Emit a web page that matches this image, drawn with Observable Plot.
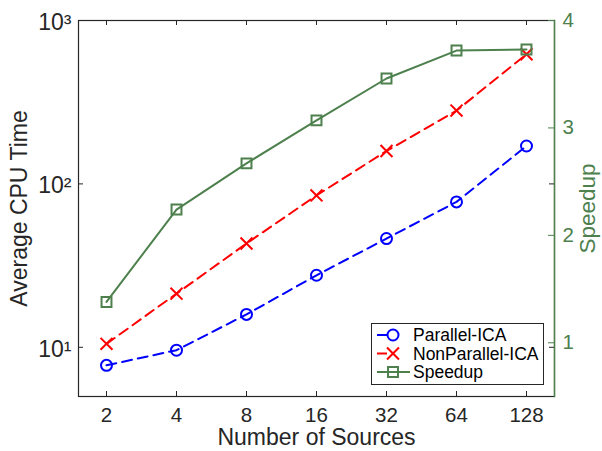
<!DOCTYPE html>
<html>
<head>
<meta charset="utf-8">
<script src="https://cdn.jsdelivr.net/npm/d3@7"></script>
<script src="https://cdn.jsdelivr.net/npm/@observablehq/plot@0.6"></script>
<style>
  html, body { margin: 0; padding: 0; background: #fff; }
  #wrap { position: relative; width: 602px; height: 451px; font-family: "Liberation Sans", Arial, Helvetica, sans-serif; }
  #wrap svg { position: absolute; left: 0; top: 0; }
</style>
</head>
<body>
<div id="wrap"></div>
<script>
const sources = [2, 4, 8, 16, 32, 64, 128];
const parallelICA = [7.76, 9.6, 15.9, 27.6, 46.3, 77.6, 170.6];
const nonParallelICA = [10.5, 21.3, 43.2, 85, 159, 281, 622];
const speedup = [1.38, 2.24, 2.67, 3.07, 3.46, 3.72, 3.73];
const cpuTicks = [10, 100, 1000];
const speedTicks = [1, 2, 3, 4];
const seriesNames = ["Parallel-ICA", "NonParallel-ICA", "Speedup"];

const blue = "#0000ff", red = "#ff0000", green = "#4d804d", ink = "#262626";
const W = 602, H = 451, mL = 78, mR = 48, mT = 20, mB = 55;
const pw = W - mL - mR, ph = H - mT - mB;

// right axis (speedup, linear [0.5, 4]) mapped onto the left log scale [5, 1000]
const cpuDomain = [5, 1000], spDomain = [0.5, 4];
const k = Math.log10(cpuDomain[1] / cpuDomain[0]) / (spDomain[1] - spDomain[0]);
const sy = s => cpuDomain[0] * Math.pow(10, (s - spDomain[0]) * k);

const data = sources.map((n, i) => ({n, par: parallelICA[i], non: nonParallelICA[i], sp: speedup[i]}));
const sup = {"1": "\u00b9", "2": "\u00b2", "3": "\u00b3"};
const FF = '"Liberation Sans", Arial, Helvetica, sans-serif';

const plot = Plot.plot({
  width: W, height: H,
  marginLeft: mL, marginRight: mR, marginTop: mT, marginBottom: mB,
  style: {fontFamily: FF, background: "transparent", overflow: "visible"},
  x: {type: "log", base: 2, domain: [Math.pow(2, 0.6), Math.pow(2, 7.4)]},
  y: {type: "log", domain: cpuDomain},
  marks: [
    Plot.frame({stroke: ink, strokeWidth: 1.2}),
    Plot.frame({anchor: "right", stroke: green, strokeWidth: 1.4}),
    // inward ticks
    Plot.tickX(sources, {x: d => d, insetTop: ph - 5, stroke: ink}),
    Plot.tickX(sources, {x: d => d, insetBottom: ph - 5, stroke: ink}),
    Plot.tickY(cpuTicks, {y: d => d, insetRight: pw - 5, stroke: ink}),
    Plot.tickY(cpuTicks, {y: d => d, insetLeft: pw - 5, stroke: ink}),
    Plot.tickY(speedTicks, {y: d => sy(d), insetLeft: pw - 6, stroke: green}),
    // axis tick labels
    Plot.axisX(sources, {tickSize: 0, tickPadding: 11, fontSize: 20.5, fill: ink, tickFormat: d => String(d), label: null}),
    Plot.axisY(cpuTicks, {anchor: "left", tickSize: 0, tickPadding: 7, fontSize: 23, fill: ink, dy: 2,
      tickFormat: d => "10" + sup[String(Math.round(Math.log10(d)))], label: null}),
    Plot.text(speedTicks, {y: d => sy(d), frameAnchor: "right", dx: 8, textAnchor: "start", lineAnchor: "middle",
      text: d => String(d), fontSize: 20.5, fill: green}),
    // axis titles
    Plot.text(["Average CPU Time"], {frameAnchor: "left", textAnchor: "middle", lineAnchor: "middle", rotate: -90, dx: -59, fontSize: 23, fill: ink}),
    Plot.text(["Speedup"], {frameAnchor: "right", textAnchor: "middle", lineAnchor: "middle", rotate: -90, dx: 33, fontSize: 22.5, fill: green}),
    Plot.text(["Number of Sources"], {frameAnchor: "bottom", textAnchor: "middle", lineAnchor: "middle", dy: 41, fontSize: 23, fill: ink}),
    // series
    Plot.line(data, {x: "n", y: "par", stroke: blue, strokeWidth: 2, strokeDasharray: "10,6"}),
    Plot.dot(data, {x: "n", y: "par", symbol: "circle", r: 5.5, stroke: blue, strokeWidth: 2, fill: "none"}),
    Plot.line(data, {x: "n", y: "non", stroke: red, strokeWidth: 2, strokeDasharray: "10,6"}),
    Plot.dot(data, {x: "n", y: "non", symbol: "times", r: 5.5, stroke: red, strokeWidth: 2}),
    Plot.line(data, {x: "n", y: d => sy(d.sp), stroke: green, strokeWidth: 2}),
    Plot.dot(data, {x: "n", y: d => sy(d.sp), symbol: "square", r: 5.6, stroke: green, strokeWidth: 2, fill: "none"})
  ]
});
const wrap = document.getElementById("wrap");
wrap.appendChild(plot);

// legend overlay
const leg = d3.select(wrap).append("svg").attr("width", W).attr("height", H)
  .style("pointer-events", "none");
const items = [
  {label: seriesNames[0], color: blue, dash: "10,30", sym: "circle"},
  {label: seriesNames[1], color: red, dash: "10,30", sym: "times"},
  {label: seriesNames[2], color: green, dash: null, sym: "square"}
];
leg.append("rect").attr("x", 371.5).attr("y", 323.5).attr("width", 172).attr("height", 61)
  .attr("fill", "#fff").attr("stroke", ink).attr("stroke-width", 1);
const rowY = [335, 353.5, 372];
items.forEach((it, i) => {
  const g = leg.append("g").attr("transform", `translate(0,${rowY[i]})`);
  g.append("line").attr("x1", 377).attr("x2", 410).attr("y1", 0).attr("y2", 0)
    .attr("stroke", it.color).attr("stroke-width", 2).attr("stroke-dasharray", it.dash);
  const symType = it.sym === "circle" ? d3.symbolCircle : it.sym === "times" ? d3.symbolTimes : d3.symbolSquare;
  const r = it.sym === "square" ? 5.6 : 5.5;
  g.append("path").attr("transform", "translate(393,0)")
    .attr("d", d3.symbol(symType, Math.PI * r * r)())
    .attr("fill", "none").attr("stroke", it.color).attr("stroke-width", 2);
  g.append("text").attr("x", 413).attr("y", 0).attr("dy", "0.35em")
    .attr("font-size", 17.5).attr("fill", "#000")
    .attr("font-family", FF)
    .text(it.label);
});
</script>
</body>
</html>
